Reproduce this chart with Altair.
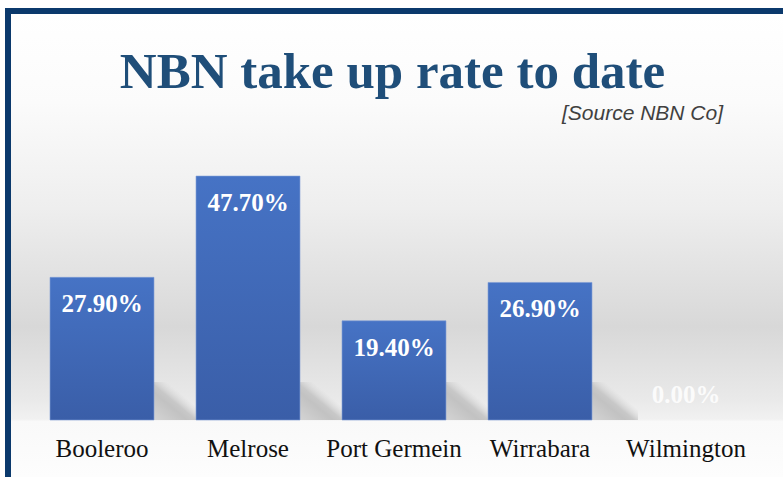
import altair as alt
import pandas as pd

categories = ["Booleroo", "Melrose", "Port Germein", "Wirrabara", "Wilmington"]
values = [27.9, 47.7, 19.4, 26.9, 0.0]
labels = ["27.90%", "47.70%", "19.40%", "26.90%", "0.00%"]
title_text = "NBN take up rate to date"
subtitle_text = "[Source NBN Co]"

df = pd.DataFrame({"cat": categories, "value": values, "label": labels})
one = pd.DataFrame({"a": [0]})

W, H = 730, 406
NAVY = "#0b396c"

xscale = alt.Scale(domain=categories, paddingInner=0.288, paddingOuter=0.144)
yscale = alt.Scale(domain=[0, 79.4], nice=False, zero=True)
X = alt.X("cat:N", scale=xscale, axis=None, sort=categories)

bg_grad = alt.Gradient(
    gradient="linear", x1=0, x2=0, y1=0, y2=1,
    stops=[
        alt.GradientStop(color="#ffffff", offset=0),
        alt.GradientStop(color="#fbfbfb", offset=0.19),
        alt.GradientStop(color="#eeeeee", offset=0.42),
        alt.GradientStop(color="#d8d8d8", offset=0.676),
        alt.GradientStop(color="#e9e9e9", offset=0.83),
        alt.GradientStop(color="#f1f1f1", offset=0.875),
        alt.GradientStop(color="#f9f9f9", offset=0.88),
        alt.GradientStop(color="#fdfdfd", offset=1),
    ],
)
background = alt.Chart(one).mark_rect(fill=bg_grad).encode(
    x=alt.value(-18), x2=alt.value(754), y=alt.value(0), y2=alt.value(463)
)

border_top = alt.Chart(one).mark_rect(fill=NAVY).encode(
    x=alt.value(-24), x2=alt.value(754), y=alt.value(-6), y2=alt.value(0)
)
border_left = alt.Chart(one).mark_rect(fill=NAVY).encode(
    x=alt.value(-24), x2=alt.value(-18), y=alt.value(-6), y2=alt.value(463)
)

shadow_grad = alt.Gradient(
    gradient="linear", x1=0, y1=1, x2=1, y2=0,
    stops=[
        alt.GradientStop(color="#d4d4d4", offset=0),
        alt.GradientStop(color="#c2c2c2", offset=0.36),
        alt.GradientStop(color="#c8c8c8", offset=0.46),
        alt.GradientStop(color="rgba(215,215,215,0)", offset=0.64),
        alt.GradientStop(color="rgba(215,215,215,0)", offset=1),
    ],
)
shadows = alt.Chart(df).transform_filter("datum.value > 0").mark_bar(
    width=46, xOffset=75, fill=shadow_grad
).encode(x=X, y=alt.value(368), y2=alt.value(406))

bar_grad = alt.Gradient(
    gradient="linear", x1=0, x2=0, y1=0, y2=1,
    stops=[
        alt.GradientStop(color="#4673c5", offset=0),
        alt.GradientStop(color="#3a5ea8", offset=1),
    ],
)
bars = alt.Chart(df).transform_filter("datum.value > 0").mark_bar(
    fill=bar_grad, stroke="#7d9bd6", strokeWidth=1, strokeOpacity=0.6
).encode(
    x=X, y=alt.Y("value:Q", scale=yscale, axis=None)
)

value_labels = alt.Chart(df).transform_filter("datum.value > 0").mark_text(
    font="Liberation Serif", fontSize=25, fontWeight="bold", color="#ffffff",
    baseline="alphabetic", align="center", dy=35
).encode(x=X, y=alt.Y("value:Q", scale=yscale, axis=None), text="label:N")

zero_labels = alt.Chart(df).transform_filter("datum.value == 0").mark_text(
    font="Liberation Serif", fontSize=25, fontWeight="bold", color="#ffffff",
    opacity=0.85, baseline="alphabetic", align="center", dy=-17
).encode(x=X, y=alt.Y("value:Q", scale=yscale, axis=None), text="label:N")

cat_labels = alt.Chart(df).mark_text(
    font="Liberation Serif", fontSize=25, color="#111111",
    baseline="alphabetic", align="center"
).encode(x=X, y=alt.value(443), text="cat:N")

title = alt.Chart(one).mark_text(
    text=title_text, font="Liberation Serif", fontSize=51, fontWeight="bold",
    color="#1f4e79", align="center", baseline="alphabetic"
).encode(x=alt.value(363.5), y=alt.value(74))

subtitle = alt.Chart(one).mark_text(
    text=subtitle_text, font="Liberation Sans", fontSize=21, fontStyle="italic",
    color="#404040", align="right", baseline="alphabetic"
).encode(x=alt.value(694), y=alt.value(105.5))

chart = alt.layer(
    background, border_top, border_left, shadows, bars,
    value_labels, zero_labels, cat_labels, title, subtitle
).properties(
    width=W, height=H,
    autosize=alt.AutoSizeParams(type="none"),
    padding={"left": 29, "top": 14, "right": 24, "bottom": 57},
    background="#ffffff",
).configure_view(strokeWidth=0)

chart.save("out.html", embed_options={"renderer": "svg", "actions": False})
